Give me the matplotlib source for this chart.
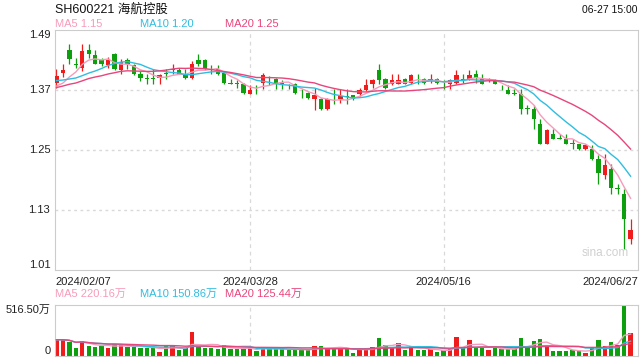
import numpy as np
import pandas as pd
import matplotlib
matplotlib.use("Agg")
import matplotlib.pyplot as plt

plt.rcParams['font.family'] = ['Liberation Sans', 'Noto Sans CJK SC', 'DejaVu Sans']

# daily candles, 2024/02/07 .. 2024/06/27 (90 trading days)
opens = [1.384, 1.403, 1.449, 1.421, 1.414, 1.449, 1.439, 1.430, 1.419, 1.441,
         1.409, 1.430, 1.419, 1.402, 1.393, 1.393, 1.393, 1.404, 1.410, 1.411,
         1.402, 1.393, 1.430, 1.430, 1.411, 1.411, 1.403, 1.383, 1.383, 1.382,
         1.362, 1.372, 1.383, 1.392, 1.391, 1.383, 1.374, 1.382, 1.364, 1.363,
         1.352, 1.351, 1.332, 1.352, 1.352, 1.358, 1.359, 1.362, 1.370, 1.381,
         1.410, 1.392, 1.382, 1.382, 1.392, 1.383, 1.392, 1.392, 1.390, 1.392,
         1.382, 1.381, 1.383, 1.392, 1.392, 1.401, 1.392, 1.391, 1.391, 1.372,
         1.371, 1.363, 1.362, 1.333, 1.332, 1.302, 1.263, 1.282, 1.274, 1.273,
         1.263, 1.262, 1.252, 1.252, 1.232, 1.200, 1.212, 1.173, 1.162, 1.073]
highs = [1.411, 1.422, 1.462, 1.434, 1.462, 1.462, 1.449, 1.434, 1.435, 1.444,
         1.431, 1.434, 1.421, 1.407, 1.401, 1.411, 1.401, 1.411, 1.421, 1.413,
         1.411, 1.427, 1.442, 1.431, 1.420, 1.420, 1.407, 1.391, 1.389, 1.383,
         1.380, 1.380, 1.403, 1.398, 1.393, 1.389, 1.382, 1.383, 1.371, 1.366,
         1.373, 1.353, 1.353, 1.371, 1.371, 1.371, 1.360, 1.373, 1.392, 1.392,
         1.421, 1.393, 1.401, 1.401, 1.393, 1.401, 1.401, 1.393, 1.401, 1.393,
         1.390, 1.392, 1.410, 1.401, 1.410, 1.410, 1.401, 1.393, 1.392, 1.380,
         1.380, 1.371, 1.371, 1.340, 1.340, 1.312, 1.292, 1.292, 1.282, 1.282,
         1.272, 1.263, 1.262, 1.261, 1.240, 1.241, 1.221, 1.181, 1.172, 1.112]
lows = [1.374, 1.395, 1.421, 1.413, 1.407, 1.433, 1.421, 1.417, 1.413, 1.409,
        1.402, 1.411, 1.399, 1.387, 1.382, 1.382, 1.382, 1.391, 1.401, 1.401,
        1.391, 1.391, 1.417, 1.410, 1.402, 1.400, 1.382, 1.381, 1.373, 1.362,
        1.362, 1.362, 1.371, 1.380, 1.371, 1.371, 1.371, 1.362, 1.353, 1.351,
        1.331, 1.331, 1.331, 1.341, 1.343, 1.341, 1.350, 1.357, 1.368, 1.373,
        1.381, 1.372, 1.380, 1.381, 1.381, 1.381, 1.381, 1.382, 1.383, 1.382,
        1.372, 1.372, 1.382, 1.383, 1.390, 1.383, 1.381, 1.385, 1.381, 1.370,
        1.361, 1.360, 1.322, 1.322, 1.292, 1.263, 1.263, 1.272, 1.272, 1.262,
        1.252, 1.251, 1.251, 1.230, 1.182, 1.192, 1.162, 1.162, 1.053, 1.063]
closes = [1.399, 1.410, 1.431, 1.420, 1.447, 1.441, 1.422, 1.421, 1.429, 1.411,
          1.426, 1.421, 1.401, 1.393, 1.392, 1.392, 1.399, 1.402, 1.411, 1.402,
          1.393, 1.421, 1.421, 1.411, 1.410, 1.401, 1.383, 1.382, 1.382, 1.363,
          1.370, 1.371, 1.400, 1.391, 1.383, 1.382, 1.373, 1.363, 1.363, 1.353,
          1.360, 1.332, 1.351, 1.351, 1.359, 1.356, 1.351, 1.370, 1.380, 1.390,
          1.390, 1.373, 1.390, 1.390, 1.382, 1.400, 1.391, 1.383, 1.391, 1.383,
          1.381, 1.390, 1.400, 1.390, 1.400, 1.393, 1.382, 1.392, 1.382, 1.371,
          1.362, 1.362, 1.332, 1.332, 1.312, 1.263, 1.290, 1.273, 1.273, 1.263,
          1.262, 1.252, 1.260, 1.232, 1.203, 1.220, 1.173, 1.172, 1.112, 1.090]
# closes before 02/07, estimated from where the MA lines start
warmup_closes = [1.35, 1.36, 1.37, 1.36, 1.35, 1.36, 1.37, 1.36, 1.36, 1.37,
                 1.40, 1.41, 1.40, 1.40, 1.39, 1.38, 1.37, 1.37, 1.37]
# volume in 万 shares
volumes = [165, 165, 145, 80, 155, 103, 93, 103, 80, 121,
           114, 93, 93, 76, 86, 86, 41, 103, 103, 59,
           80, 241, 93, 86, 86, 66, 114, 66, 66, 76,
           76, 52, 93, 66, 76, 66, 59, 66, 59, 59,
           103, 103, 76, 76, 80, 76, 34, 66, 66, 93,
           179, 114, 80, 128, 59, 103, 59, 59, 66, 41,
           59, 66, 196, 80, 165, 80, 76, 59, 86, 66,
           66, 66, 186, 93, 155, 176, 93, 52, 52, 52,
           59, 52, 34, 80, 165, 103, 145, 114, 516.5, 231]
date_labels = ['2024/02/07', '2024/03/28', '2024/05/16', '2024/06/27']
date_index = [0, 30, 60, 89]

RED = '#f01c1c'
GREEN = '#0e9f0e'
C5 = '#f79bbb'
C10 = '#2fbde0'
C20 = '#e8457c'
GRID = '#d9d9d9'
W, H = 640, 360

o = np.array(opens)
c = np.array(closes)
x = np.arange(len(c))
up = c >= o
colors = np.where(up, RED, GREEN)

full = pd.Series(warmup_closes + closes)
ma = {n: full.rolling(n, min_periods=1).mean().values[len(warmup_closes):] for n in (5, 10, 20)}
vol = pd.Series(volumes)
vma = {n: vol.rolling(n, min_periods=1).mean().values for n in (5, 10, 20)}

fig = plt.figure(figsize=(6.4, 3.6), dpi=100)
left, right = 55 / W, 638 / W
ax = fig.add_axes([left, 1 - 270 / H, right - left, 240 / H])
axv = fig.add_axes([left, 1 - 356 / H, right - left, 51 / H])

xlim = (-0.23, 90.15)
for a in (ax, axv):
    a.set_xlim(*xlim)
    a.set_xticks([])
    a.set_yticks([])
    for s in a.spines.values():
        s.set_color('#cccccc')
        s.set_linewidth(0.8)
    for i in (30, 60):
        a.axvline(i, color=GRID, lw=0.9, ls=(0, (3, 3)), zorder=0)

# price panel
ax.set_ylim(1.01, 1.49)
for lv in (1.37, 1.25, 1.13):
    ax.axhline(lv, color=GRID, lw=1.0, ls=(0, (2, 2.5)), zorder=0)
ax.vlines(x, lows, highs, colors=colors, lw=0.9, zorder=2)
body = np.maximum(np.abs(c - o), 0.0012)
ax.bar(x, body, bottom=np.minimum(o, c), width=0.68, color=colors, zorder=3)
ax.plot(x, ma[5], color=C5, lw=1.0, zorder=4)
ax.plot(x, ma[10], color=C10, lw=1.0, zorder=4)
ax.plot(x, ma[20], color=C20, lw=1.0, zorder=4)
ax.text(0.985, 0.045, 'sina.com', transform=ax.transAxes, ha='right', va='bottom',
        fontsize=8.5, color='#d0d0d0')

for lv in (1.49, 1.37, 1.25, 1.13, 1.01):
    va = 'top' if lv == 1.49 else ('bottom' if lv == 1.01 else 'center')
    ax.text(-0.008, lv, f'{lv:.2f}', transform=ax.get_yaxis_transform(),
            ha='right', va=va, fontsize=8, color='#222222')

# volume panel
axv.set_ylim(0, 516.5)
axv.bar(x, volumes, width=0.68, color=colors, zorder=2)
axv.plot(x, vma[5], color=C5, lw=1.0, zorder=3)
axv.plot(x, vma[10], color=C10, lw=1.0, zorder=3)
axv.plot(x, vma[20], color=C20, lw=1.0, zorder=3)
axv.text(-0.008, 516.5, '516.50万', transform=axv.get_yaxis_transform(),
         ha='right', va='top', fontsize=8, color='#222222')
axv.text(-0.008, 0, '0', transform=axv.get_yaxis_transform(),
         ha='right', va='bottom', fontsize=8, color='#222222')

# dates
for lab, i in zip(date_labels, date_index):
    ha = 'left' if i == 0 else ('right' if i == date_index[-1] else 'center')
    xx = xlim[0] if i == 0 else (xlim[1] if i == date_index[-1] else i)
    ax.text(xx, -0.03, lab, transform=ax.get_xaxis_transform(), ha=ha, va='top',
            fontsize=8, color='#222222')

# header texts
fig.text(55 / W, 1 - 10 / H, 'SH600221 海航控股', ha='left', va='center',
         fontsize=9, color='#111111')
fig.text(638 / W, 1 - 10 / H, '06-27 15:00', ha='right', va='center',
         fontsize=7.5, color='#111111')
fig.text(55 / W, 1 - 24 / H, f'MA5 {ma[5][-1]:.2f}', ha='left', va='center', fontsize=8, color=C5)
fig.text(140 / W, 1 - 24 / H, f'MA10 {ma[10][-1]:.2f}', ha='left', va='center', fontsize=8, color=C10)
fig.text(225 / W, 1 - 24 / H, f'MA20 {ma[20][-1]:.2f}', ha='left', va='center', fontsize=8, color=C20)
fig.text(55 / W, 1 - 294 / H, '%s %.2f万' % ('MA5', 220.16), ha='left', va='center', fontsize=8, color=C5)
fig.text(140 / W, 1 - 294 / H, '%s %.2f万' % ('MA10', 150.86), ha='left', va='center', fontsize=8, color=C10)
fig.text(225 / W, 1 - 294 / H, '%s %.2f万' % ('MA20', 125.44), ha='left', va='center', fontsize=8, color=C20)

fig.savefig('out.png', dpi=100)
